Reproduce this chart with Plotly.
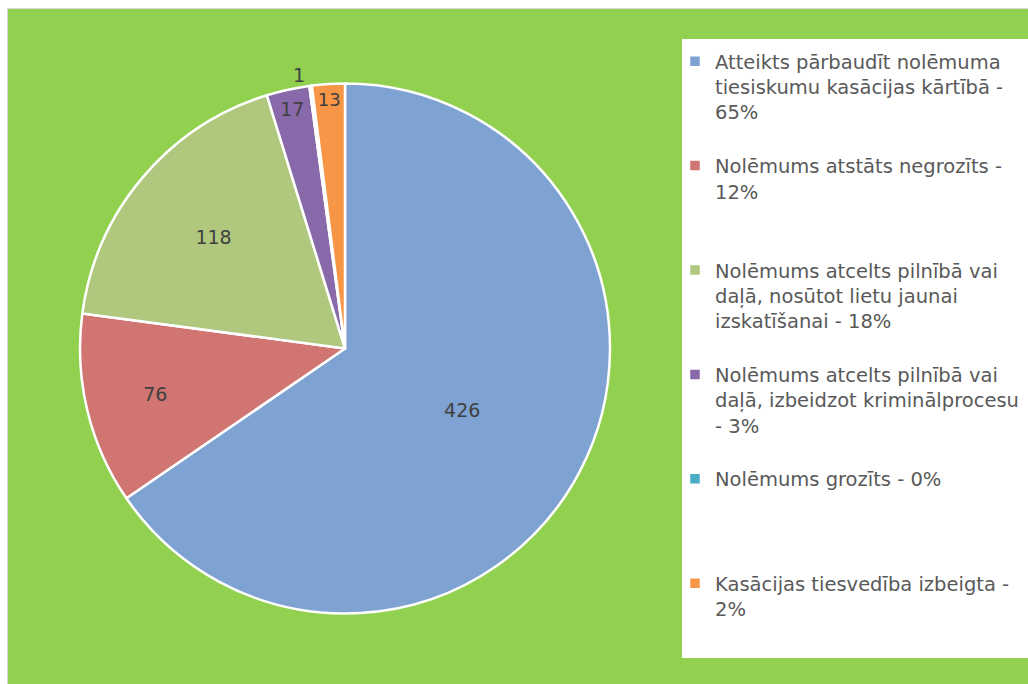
import plotly.graph_objects as go

labels = [
    "Atteikts pārbaudīt nolēmuma<br>tiesiskumu kasācijas kārtībā -<br>65%",
    "Nolēmums atstāts negrozīts -<br>12%",
    "Nolēmums atcelts pilnībā vai<br>daļā, nosūtot lietu jaunai<br>izskatīšanai - 18%",
    "Nolēmums atcelts pilnībā vai<br>daļā, izbeidzot kriminālprocesu<br>- 3%",
    "Nolēmums grozīts - 0%",
    "Kasācijas tiesvedība izbeigta -<br>2%",
]
values = [426, 76, 118, 17, 1, 13]
colors = ["#7EA2D2", "#D07572", "#B0C87E", "#8869AA", "#4BACC6", "#F79646"]
text_positions = ["inside", "inside", "inside", "inside", "outside", "inside"]

# pad legend labels to equal line count so slots are evenly spaced
max_lines = 4
legend_labels = []
for lab in labels:
    n = lab.count("<br>") + 1
    legend_labels.append(lab + "<br> " * (max_lines - n))

W, H = 1028, 684


def px(x):
    return x / W


def py(y):
    return 1 - y / H


FONT = "DejaVu Sans"

fig = go.Figure()
fig.add_trace(go.Pie(
    labels=legend_labels,
    values=values,
    sort=False,
    direction="clockwise",
    rotation=0,
    marker=dict(colors=colors, line=dict(color="white", width=2.5)),
    textinfo="value",
    textposition=text_positions,
    insidetextorientation="horizontal",
    textfont=dict(family=FONT, size=19, color="#404040"),
    domain=dict(x=[px(80), px(610)], y=[py(613.5), py(83.5)]),
    hoverinfo="label+value",
))

shapes = [
    dict(type="rect", xref="paper", yref="paper", x0=px(7.5), x1=1.01, y0=-0.01, y1=py(8.5),
         fillcolor="#92D050", line=dict(color="#D9D9D9", width=1), layer="below"),
    dict(type="rect", xref="paper", yref="paper", x0=px(682), x1=1.01, y0=py(658), y1=py(39),
         fillcolor="white", line=dict(width=0), layer="below"),
]

fig.update_layout(
    width=W, height=H,
    margin=dict(l=0, r=0, t=0, b=0),
    paper_bgcolor="white",
    plot_bgcolor="white",
    shapes=shapes,
    showlegend=True,
    legend=dict(
        x=px(675), xanchor="left",
        y=py(42), yanchor="top",
        bgcolor="rgba(0,0,0,0)",
        font=dict(family=FONT, size=19.5, color="#595959"),
        valign="top",
        traceorder="normal",
    ),
)

fig.write_html("out.html", config={"displayModeBar": False},
               post_script="document.body.style.margin='0';")
